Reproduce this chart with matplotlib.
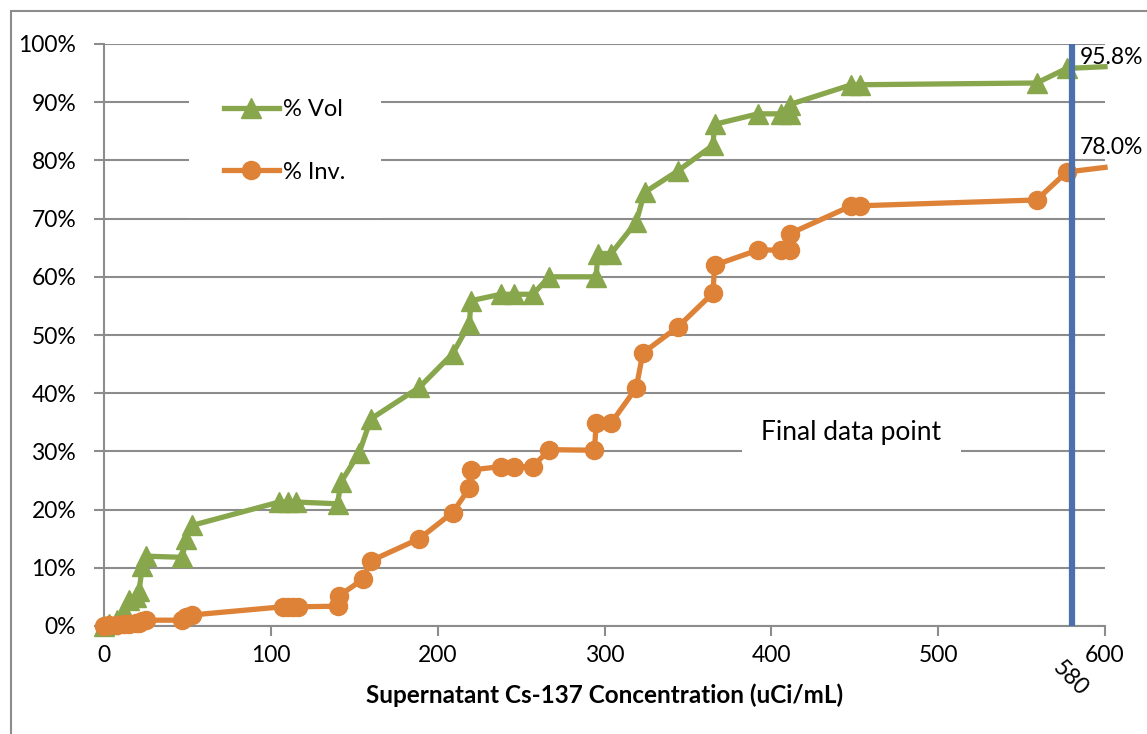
import matplotlib
matplotlib.use("Agg")
import matplotlib.pyplot as plt
from matplotlib.lines import Line2D
from matplotlib.patches import Rectangle
from matplotlib.ticker import FuncFormatter

# Cs-137 concentration (uCi/mL) vs cumulative % volume / % inventory
vol_x = [0, 3, 8, 12, 15, 19, 21, 23, 25, 47, 49, 53,
         105, 110, 115, 140, 142, 153, 160, 189, 209, 219, 220,
         238, 246, 257, 267, 295, 296, 304, 319, 324, 344, 365, 366,
         392, 406, 411, 411, 448, 453, 559, 577]
vol_y = [0, 0.3, 1.0, 2.5, 4.5, 5.0, 6.0, 10.3, 12.0, 11.8, 15.0, 17.3,
         21.3, 21.3, 21.3, 21.0, 24.7, 29.8, 35.6, 41.0, 46.8, 51.9, 55.9,
         57.0, 57.0, 57.0, 60.0, 60.0, 64.0, 64.0, 69.4, 74.5, 78.2, 82.6, 86.2,
         88.0, 88.0, 88.0, 89.6, 93.0, 93.0, 93.3, 95.8]

inv_x = [0, 3, 8, 12, 15, 19, 21, 23, 25, 47, 49, 53,
         107, 110, 113, 116, 140, 141, 155, 160, 189, 209, 219, 220,
         238, 246, 257, 267, 294, 295, 304, 319, 323, 344, 365, 366,
         392, 406, 411, 411, 448, 453, 559, 577]
inv_y = [0, 0.1, 0.2, 0.3, 0.4, 0.5, 0.6, 0.8, 1.0, 1.0, 1.5, 1.9,
         3.3, 3.3, 3.3, 3.3, 3.4, 5.2, 8.0, 11.2, 15.0, 19.5, 23.7, 26.8,
         27.4, 27.4, 27.4, 30.3, 30.2, 34.9, 34.9, 40.9, 46.9, 51.4, 57.2, 62.0,
         64.6, 64.6, 64.6, 67.4, 72.2, 72.2, 73.2, 78.0]

# line runs on past the last marker to the axis edge
vol_tail = (600, 96.1)
inv_tail = (600, 78.8)

final_x = 580
vol_final_label = "95.8%"
inv_final_label = "78.0%"

GREEN = "#88A64B"
ORANGE = "#DE8238"
BLUE = "#4A70AE"
GRID = "#8C8C8C"
FONT = "Lato"

plt.rcParams["font.family"] = [FONT, "DejaVu Sans"]

fig = plt.figure(figsize=(11.47, 7.34), dpi=100)
ax = fig.add_axes([104 / 1147, 1 - 626 / 734, 1001 / 1147, 582 / 734])

# outer chart border (runs off the right / bottom edge as in the source)
fig.patches.append(Rectangle((11 / 1147, -0.05), 1.2, 1 - 11 / 734 + 0.05,
                             transform=fig.transFigure, fill=False,
                             edgecolor="#8C8C8C", linewidth=1.5))

ax.set_xlim(0, 600)
ax.set_ylim(0, 100)
ax.set_xticks(range(0, 601, 100))
ax.set_yticks(range(0, 101, 10))
ax.yaxis.set_major_formatter(FuncFormatter(lambda v, _: f"{v:.0f}%"))
ax.grid(axis="y", color=GRID, linewidth=1.5, zorder=0)
for s in ["top", "right"]:
    ax.spines[s].set_visible(False)
for s in ["left", "bottom"]:
    ax.spines[s].set_color(GRID)
    ax.spines[s].set_linewidth(1.5)
ax.tick_params(axis="both", direction="out", length=7, width=1.5, color=GRID,
               labelsize=16.5)
ax.tick_params(axis="x", pad=7)
ax.tick_params(axis="y", pad=13)
ax.set_xlabel("Supernatant Cs-137 Concentration (uCi/mL)", fontsize=17.5,
              fontweight="bold", labelpad=12)

ax.plot(vol_x + [vol_tail[0]], vol_y + [vol_tail[1]], color=GREEN, lw=3.8,
        solid_joinstyle="round", marker="^", ms=14, markevery=list(range(len(vol_x))),
        mec=GREEN, zorder=3, clip_on=False)
ax.plot(inv_x + [inv_tail[0]], inv_y + [inv_tail[1]], color=ORANGE, lw=3.8,
        solid_joinstyle="round", marker="o", ms=13, markevery=list(range(len(inv_x))),
        mec=ORANGE, zorder=3, clip_on=False)

ax.axvline(final_x, color=BLUE, lw=4.5, zorder=4)
ax.text(final_x - 1, -9.0, str(final_x), rotation=-45, ha="center", va="center",
        fontsize=16.5)

ax.text(585, 97.6, vol_final_label, fontsize=16.5, ha="left",
        va="center", clip_on=False)
ax.text(585, 82.3, inv_final_label, fontsize=16.5, ha="left",
        va="center", clip_on=False)

ax.text(448, 33.3, "Final data point", fontsize=19, ha="center", va="center",
        bbox=dict(facecolor="white", edgecolor="none", pad=14), zorder=2)

handles = [Line2D([], [], color=GREEN, lw=3.8, marker="^", ms=14, mec=GREEN),
           Line2D([], [], color=ORANGE, lw=3.8, marker="o", ms=13, mec=ORANGE)]
leg = ax.legend(handles, ["% Vol", "% Inv."], loc="center",
                bbox_to_anchor=(285 / 1147, 1 - 141 / 734),
                bbox_transform=fig.transFigure, fontsize=17, frameon=True,
                facecolor="white", edgecolor="none", framealpha=1,
                fancybox=False, handlelength=2.3, handletextpad=0.2,
                labelspacing=1.75, borderpad=1.5)
leg.set_zorder(2)

fig.savefig("out.png", dpi=100)
